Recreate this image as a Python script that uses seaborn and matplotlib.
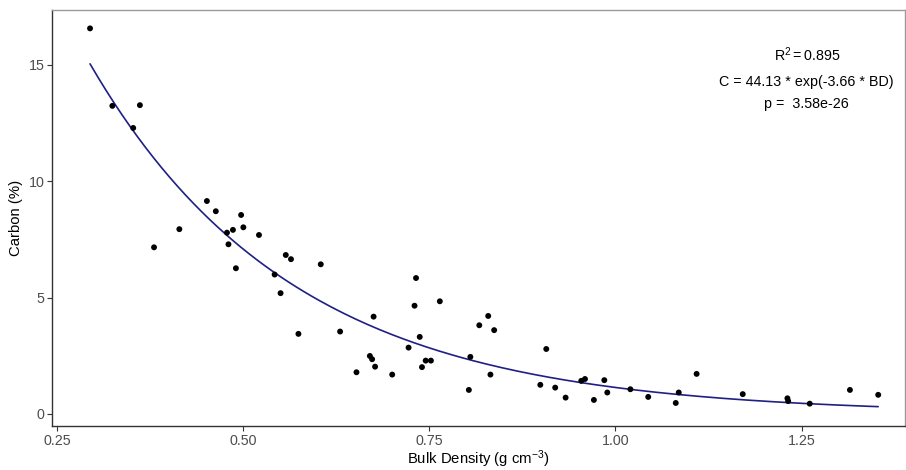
import numpy as np
import pandas as pd
import matplotlib
matplotlib.use("Agg")
import matplotlib.pyplot as plt
import seaborn as sns

bulk_density = [0.294, 0.324, 0.352, 0.361, 0.380, 0.414, 0.451, 0.463, 0.478, 0.480,
                0.486, 0.490, 0.497, 0.500, 0.521, 0.542, 0.550, 0.557, 0.564, 0.574,
                0.604, 0.630, 0.652, 0.670, 0.673, 0.675, 0.677, 0.700, 0.722, 0.730,
                0.732, 0.737, 0.740, 0.745, 0.752, 0.764, 0.803, 0.805, 0.817, 0.829,
                0.832, 0.837, 0.899, 0.907, 0.919, 0.933, 0.954, 0.959, 0.971, 0.985,
                0.989, 1.020, 1.044, 1.081, 1.085, 1.109, 1.171, 1.231, 1.232, 1.261,
                1.315, 1.353]
carbon = [16.57, 13.24, 12.29, 13.27, 7.16, 7.94, 9.15, 8.71, 7.79, 7.29,
          7.91, 6.26, 8.55, 8.02, 7.69, 5.99, 5.19, 6.83, 6.65, 3.44,
          6.43, 3.54, 1.79, 2.49, 2.35, 4.18, 2.03, 1.69, 2.85, 4.65,
          5.84, 3.31, 2.01, 2.29, 2.29, 4.84, 1.03, 2.45, 3.81, 4.21,
          1.69, 3.60, 1.25, 2.79, 1.13, 0.70, 1.42, 1.50, 0.60, 1.45,
          0.92, 1.06, 0.73, 0.47, 0.92, 1.72, 0.85, 0.67, 0.55, 0.44,
          1.03, 0.82]

# Fitted model coefficients (shown on the chart)
fit_a = 44.13
fit_b = -3.66
annotation_lines = [r"$\mathregular{R^2 = 0.895}$",
                    "C = 44.13 * exp(-3.66 * BD)",
                    "p =  3.58e-26"]

x_ticks = [0.25, 0.50, 0.75, 1.00, 1.25]
x_tick_labels = ["0.25", "0.50", "0.75", "1.00", "1.25"]
y_ticks = [0, 5, 10, 15]

df = pd.DataFrame({"BD": bulk_density, "C": carbon})
bd_grid = np.linspace(min(bulk_density), max(bulk_density), 200)
fit_df = pd.DataFrame({"BD": bd_grid, "C": fit_a * np.exp(fit_b * bd_grid)})

sns.set_theme(style="white")
plt.rcParams["font.family"] = ["Liberation Sans", "DejaVu Sans"]
plt.rcParams["mathtext.fontset"] = "custom"
plt.rcParams["mathtext.rm"] = "Liberation Sans"
plt.rcParams["mathtext.it"] = "Liberation Sans"

W, H = 906, 470
fig = plt.figure(figsize=(W / 100, H / 100), dpi=100)
ax = fig.add_axes([52 / W, (H - 426) / H, (905 - 52) / W, (426 - 10) / H])

sns.scatterplot(data=df, x="BD", y="C", ax=ax, color="black", s=18,
                edgecolor="none", linewidth=0, zorder=3)
sns.lineplot(data=fit_df, x="BD", y="C", ax=ax, color="#1f1f85",
             linewidth=1.2, zorder=2)

ax.set_xlim(0.2429, 1.389)
ax.set_ylim(-0.52, 17.36)
ax.set_xticks(x_ticks)
ax.set_xticklabels(x_tick_labels)
ax.set_yticks(y_ticks)

ax.tick_params(axis="both", which="major", length=3.5, width=0.8,
               color="#333333", labelcolor="#4d4d4d", labelsize=10.3,
               bottom=True, left=True, pad=2)

for side in ["left", "bottom"]:
    ax.spines[side].set_color("#333333")
    ax.spines[side].set_linewidth(1.0)
for side in ["top", "right"]:
    ax.spines[side].set_visible(True)
    ax.spines[side].set_color("#9a9a9a")
    ax.spines[side].set_linewidth(1.0)

ax.set_xlabel(r"Bulk Density (g cm$^{-3}$)", fontsize=10.7, color="black", labelpad=0.5)
ax.set_ylabel("Carbon (%)", fontsize=10.7, color="black", labelpad=4)

ann_y = [15.43, 14.27, 13.32]
for txt, yy in zip(annotation_lines, ann_y):
    ax.text(1.257, yy, txt, ha="center", va="center", fontsize=10.3, color="black")

fig.savefig("out.png", dpi=100)
